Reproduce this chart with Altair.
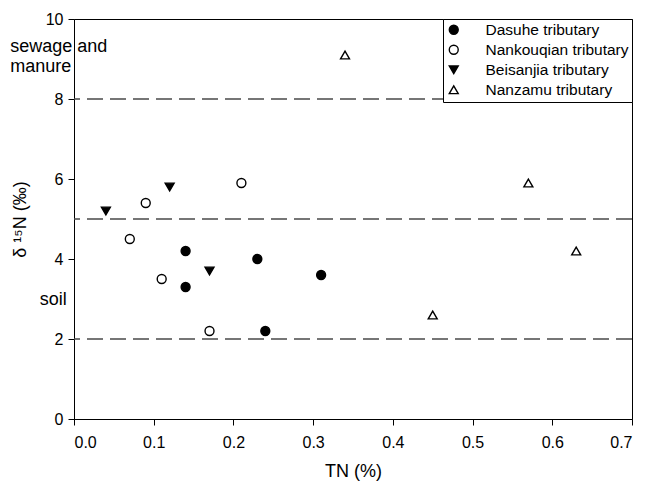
import altair as alt
import pandas as pd

sites = ["Dasuhe tributary", "Nankouqian tributary", "Beisanjia tributary", "Nanzamu tributary"]

dasuhe_tn = [0.14, 0.14, 0.23, 0.31, 0.24]
dasuhe_n15 = [4.2, 3.3, 4.0, 3.6, 2.2]
nankouqian_tn = [0.07, 0.09, 0.11, 0.17, 0.21]
nankouqian_n15 = [4.5, 5.4, 3.5, 2.2, 5.9]
beisanjia_tn = [0.04, 0.12, 0.17]
beisanjia_n15 = [5.2, 5.8, 3.7]
nanzamu_tn = [0.34, 0.45, 0.57, 0.63]
nanzamu_n15 = [9.1, 2.6, 5.9, 4.2]

thresholds = [2, 5, 8]

note_text = ["sewage and", "manure", "soil"]
note_x = [-0.080, -0.080, -0.043]
note_y = [9.3, 8.8, 2.975]

x_ticks = [0.0, 0.1, 0.2, 0.3, 0.4, 0.5, 0.6, 0.7]
y_ticks = [0, 2, 4, 6, 8, 10]

shapes = ["circle", "circle", "triangle-down", "triangle-up"]
fills = ["black", "white", "black", "white"]
strokes = ["black", "black", "black", "black"]

rows = []
for name, xs, ys in [
    (sites[0], dasuhe_tn, dasuhe_n15),
    (sites[1], nankouqian_tn, nankouqian_n15),
    (sites[2], beisanjia_tn, beisanjia_n15),
    (sites[3], nanzamu_tn, nanzamu_n15),
]:
    for a, b in zip(xs, ys):
        rows.append({"site": name, "tn": a, "n15": b})
df = pd.DataFrame(rows)
thr_df = pd.DataFrame({"y": thresholds})
notes_df = pd.DataFrame({"t": note_text, "x": note_x, "y": note_y})

xscale = alt.Scale(domain=[0, 0.7], nice=False, zero=False)
yscale = alt.Scale(domain=[0, 10], nice=False)

leg = alt.Legend(title=None, orient="top-right", offset=0)

points = alt.Chart(df).mark_point(
    filled=True, strokeWidth=1.4, size=80, opacity=1, fillOpacity=1
).encode(
    x=alt.X("tn:Q", scale=xscale,
            axis=alt.Axis(values=x_ticks, format=".1f", title="TN (%)")),
    y=alt.Y("n15:Q", scale=yscale,
            axis=alt.Axis(values=y_ticks, format="d", title="δ ¹⁵N (‰)")),
    shape=alt.Shape("site:N", scale=alt.Scale(domain=sites, range=shapes), legend=leg),
    fill=alt.Fill("site:N", scale=alt.Scale(domain=sites, range=fills), legend=leg),
    stroke=alt.Stroke("site:N", scale=alt.Scale(domain=sites, range=strokes), legend=leg),
)

rules = alt.Chart(thr_df).mark_rule(
    color="#4a4a4a", strokeWidth=1.3, strokeDash=[16, 7]
).encode(y=alt.Y("y:Q", scale=yscale))

notes = alt.Chart(notes_df).mark_text(
    align="left", baseline="middle", fontSize=18, font="Liberation Sans", color="black"
).encode(
    x=alt.X("x:Q", scale=xscale),
    y=alt.Y("y:Q", scale=yscale),
    text="t:N",
)

chart = alt.layer(rules, points, notes).properties(
    width=558,
    height=400,
    autosize=alt.AutoSizeParams(type="none"),
    padding={"left": 66, "top": 11, "right": 6, "bottom": 75},
).configure(font="Liberation Sans").configure_view(
    stroke="black", strokeWidth=1
).configure_axis(
    grid=False,
    domainColor="black",
    tickColor="black",
    labelColor="black",
    titleColor="black",
    labelFontSize=16,
    titleFontSize=18,
    titleFontWeight="normal",
    tickSize=6,
    labelFont="Liberation Sans",
    titleFont="Liberation Sans",
).configure_axisX(
    labelPadding=9, titlePadding=12
).configure_axisY(
    labelPadding=5, titlePadding=16
).configure_legend(
    strokeColor="black",
    fillColor="white",
    padding=3,
    labelFontSize=15.5,
    labelFont="Liberation Sans",
    labelColor="black",
    symbolSize=80,
    symbolStrokeColor="black",
    symbolStrokeWidth=1.4,
    labelOffset=24,
    rowPadding=3,
    cornerRadius=0,
)

chart.save("out.html", embed_options={"renderer": "svg", "actions": False})
